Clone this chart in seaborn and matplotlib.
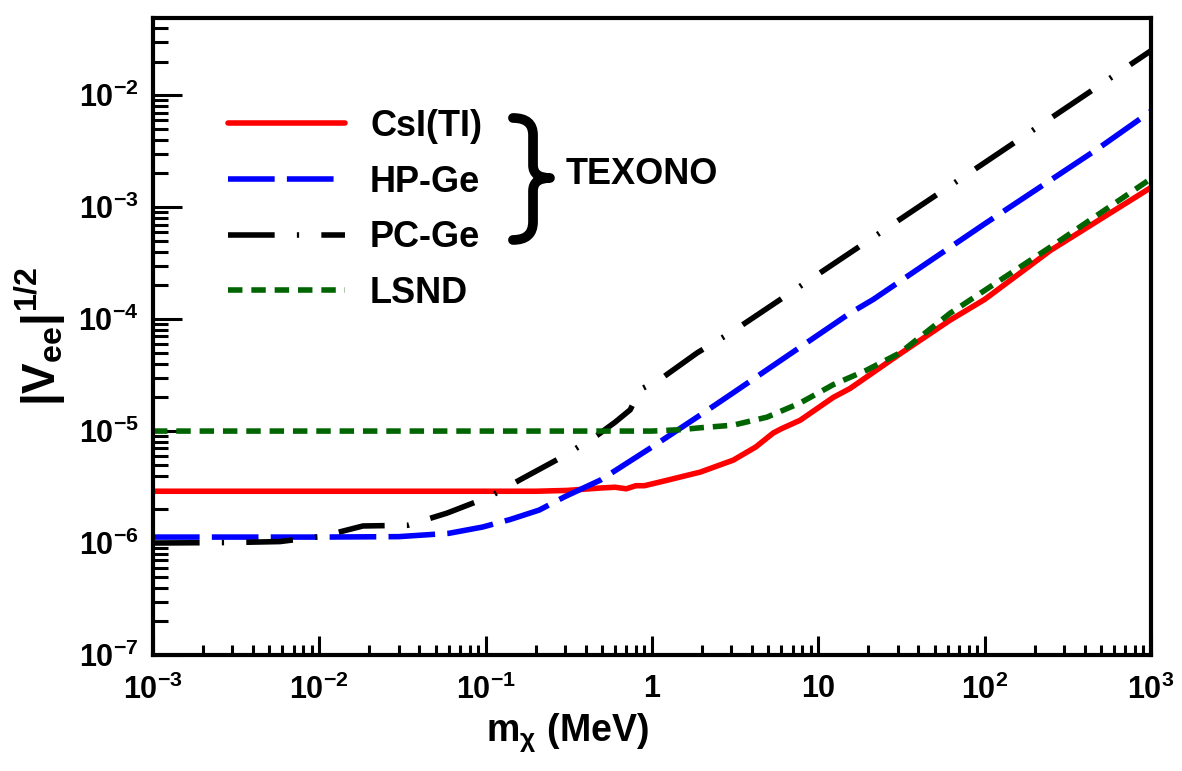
import numpy as np
import pandas as pd
import seaborn as sns
import matplotlib.pyplot as plt
from matplotlib.path import Path
from matplotlib.patches import PathPatch
from matplotlib.ticker import LogLocator, FixedLocator, FixedFormatter, NullFormatter

# digitised limits, |V_ee|^(1/2) vs m_chi (MeV)
csi_m = [0.001, 0.01, 0.1, 0.2, 0.31, 0.49, 0.6, 0.7, 0.8, 0.9, 1.2, 1.95, 3.08, 4.2, 5.35, 6.0, 7.78, 12.3, 15.5, 31, 62, 100, 248, 1000]
csi_v = [2.9e-6, 2.9e-6, 2.9e-6, 2.9e-6, 2.95e-6, 3.1e-6, 3.15e-6, 3.05e-6, 3.25e-6, 3.25e-6, 3.6e-6, 4.3e-6, 5.5e-6, 7.2e-6, 9.6e-6, 1.05e-5, 1.25e-5, 2.0e-5, 2.4e-5, 4.9e-5, 9.8e-5, 1.5e-4, 4.1e-4, 1.5e-3]

hpge_m = [0.001, 0.01, 0.03, 0.06, 0.096, 0.14, 0.21, 0.3, 0.49, 1.0, 1.95, 3.08, 15.5, 21.4, 100, 475, 1000]
hpge_v = [1.13e-6, 1.13e-6, 1.14e-6, 1.22e-6, 1.39e-6, 1.62e-6, 1.97e-6, 2.6e-6, 3.65e-6, 7.2e-6, 1.39e-5, 2.2e-5, 1.13e-4, 1.5e-4, 7.1e-4, 3.3e-3, 7.2e-3]

pcge_m = [0.001, 0.003, 0.0058, 0.0105, 0.0183, 0.025, 0.034, 0.0586, 0.106, 0.168, 0.29, 0.47, 0.6, 0.74, 0.77, 0.80, 0.85, 1.12, 1.87, 3.03, 100, 1000]
pcge_v = [1.0e-6, 1.01e-6, 1.03e-6, 1.15e-6, 1.42e-6, 1.43e-6, 1.44e-6, 1.85e-6, 2.6e-6, 3.8e-6, 5.9e-6, 9.2e-6, 1.2e-5, 1.55e-5, 1.75e-5, 2.15e-5, 2.35e-5, 2.9e-5, 5.0e-5, 7.7e-5, 2.5e-3, 2.5e-2]

lsnd_m = [0.001, 0.5, 1.0, 1.5, 1.95, 3.08, 4.9, 7.76, 12.3, 19.5, 31, 62, 248, 1000]
lsnd_v = [1e-5, 1e-5, 1.0e-5, 1.03e-5, 1.07e-5, 1.13e-5, 1.33e-5, 1.78e-5, 2.6e-5, 3.5e-5, 5.0e-5, 1.13e-4, 4.4e-4, 1.8e-3]

labels = ['CsI(TI)', 'HP-Ge', 'PC-Ge', 'LSND']
colors = ['#ff0000', '#0000ff', '#000000', '#006400']

x_ticks = [1e-3, 1e-2, 1e-1, 1, 10, 1e2, 1e3]
x_ticklabels = [r'$\mathbf{10^{-3}}$', r'$\mathbf{10^{-2}}$', r'$\mathbf{10^{-1}}$', r'$\mathbf{1}$',
                r'$\mathbf{10}$', r'$\mathbf{10^{2}}$', r'$\mathbf{10^{3}}$']
y_ticks = [1e-7, 1e-6, 1e-5, 1e-4, 1e-3, 1e-2]
y_ticklabels = [r'$\mathbf{10^{-7}}$', r'$\mathbf{10^{-6}}$', r'$\mathbf{10^{-5}}$', r'$\mathbf{10^{-4}}$',
                r'$\mathbf{10^{-3}}$', r'$\mathbf{10^{-2}}$']

df = pd.concat([
    pd.DataFrame({'m': csi_m, 'v': csi_v, 'exp': labels[0]}),
    pd.DataFrame({'m': hpge_m, 'v': hpge_v, 'exp': labels[1]}),
    pd.DataFrame({'m': pcge_m, 'v': pcge_v, 'exp': labels[2]}),
    pd.DataFrame({'m': lsnd_m, 'v': lsnd_v, 'exp': labels[3]}),
])

sns.set_style('white')
plt.rcParams['font.family'] = ['Liberation Sans', 'DejaVu Sans']
plt.rcParams['font.weight'] = 'bold'
plt.rcParams['text.color'] = 'black'
plt.rcParams['axes.labelcolor'] = 'black'
plt.rcParams['xtick.color'] = 'black'
plt.rcParams['ytick.color'] = 'black'
plt.rcParams['mathtext.fontset'] = 'custom'
plt.rcParams['mathtext.rm'] = 'Liberation Sans:bold'
plt.rcParams['mathtext.bf'] = 'Liberation Sans:bold'
plt.rcParams['mathtext.it'] = 'Liberation Sans:bold'
plt.rcParams['mathtext.sf'] = 'Liberation Sans:bold'

fig = plt.figure(figsize=(11.82, 7.71), dpi=100)
ax = fig.add_axes([0.1294, 0.1505, 0.8444, 0.8262])

dashes = {labels[0]: '', labels[1]: (8.4, 2.2), labels[2]: (8.4, 4.0, 0.4, 4.0), labels[3]: (2.6, 1.6)}
sns.lineplot(data=df, x='m', y='v', hue='exp', style='exp', hue_order=labels, style_order=labels,
             palette=colors, dashes=dashes, linewidth=4, sort=False, estimator=None, ax=ax, legend=False)
for ln in ax.get_lines():
    ln.set_dash_capstyle('butt')

ax.set_xscale('log')
ax.set_yscale('log')
ax.set_xlim(1e-3, 1e3)
ax.set_ylim(1e-7, 4.9e-2)

ax.xaxis.set_major_locator(FixedLocator(x_ticks))
ax.xaxis.set_major_formatter(FixedFormatter(x_ticklabels))
ax.yaxis.set_major_locator(FixedLocator(y_ticks))
ax.yaxis.set_major_formatter(FixedFormatter(y_ticklabels))
ax.xaxis.set_minor_locator(LogLocator(base=10, subs=np.arange(2, 10), numticks=20))
ax.yaxis.set_minor_locator(LogLocator(base=10, subs=np.arange(2, 10), numticks=20))
ax.xaxis.set_minor_formatter(NullFormatter())
ax.yaxis.set_minor_formatter(NullFormatter())

ax.tick_params(axis='both', which='both', direction='in', width=2.2, color='black',
               bottom=True, left=True, top=False, right=False, labelsize=22)
ax.tick_params(axis='x', which='major', length=14, pad=14)
ax.tick_params(axis='x', which='minor', length=7)
ax.tick_params(axis='y', which='major', length=21, pad=10)
ax.tick_params(axis='y', which='minor', length=11)
for s in ax.spines.values():
    s.set_linewidth(3)
    s.set_color('black')

ax.set_xlabel(r'$\mathbf{m_{\chi}\ (MeV)}$', fontsize=27)
ax.xaxis.set_label_coords(0.415, -0.088)
ax.set_ylabel(r'$\mathbf{|V_{ee}|^{1/2}}$', fontsize=33)
ax.yaxis.set_label_coords(-0.085, 0.50)

handles = ax.get_lines()[:4]
ax.legend(handles, labels, loc='upper left', bbox_to_anchor=(0.075, 0.857), frameon=False,
          borderpad=0, borderaxespad=0, handlelength=3.25, handletextpad=0.69, labelspacing=0.57,
          prop={'family': 'Liberation Sans', 'weight': 'bold', 'size': 26})

# curly brace grouping the TEXONO detectors (axes fraction)
brace = Path([(0.3607, 0.843), (0.3808, 0.843), (0.3808, 0.8163),
              (0.3808, 0.769), (0.3808, 0.7488), (0.3978, 0.7488),
              (0.3808, 0.7488), (0.3808, 0.7284),
              (0.3808, 0.680), (0.3808, 0.6515), (0.3607, 0.6515)],
             [Path.MOVETO, Path.CURVE3, Path.CURVE3,
              Path.LINETO, Path.CURVE3, Path.CURVE3,
              Path.CURVE3, Path.CURVE3,
              Path.LINETO, Path.CURVE3, Path.CURVE3])
ax.add_patch(PathPatch(brace, transform=ax.transAxes, facecolor='none', edgecolor='black',
                       lw=7, capstyle='round', joinstyle='round'))
ax.text(0.413, 0.7535, 'TEXONO', transform=ax.transAxes, fontsize=26, fontweight='bold',
        ha='left', va='center', family='Liberation Sans')

fig.savefig('out.png', dpi=100)
